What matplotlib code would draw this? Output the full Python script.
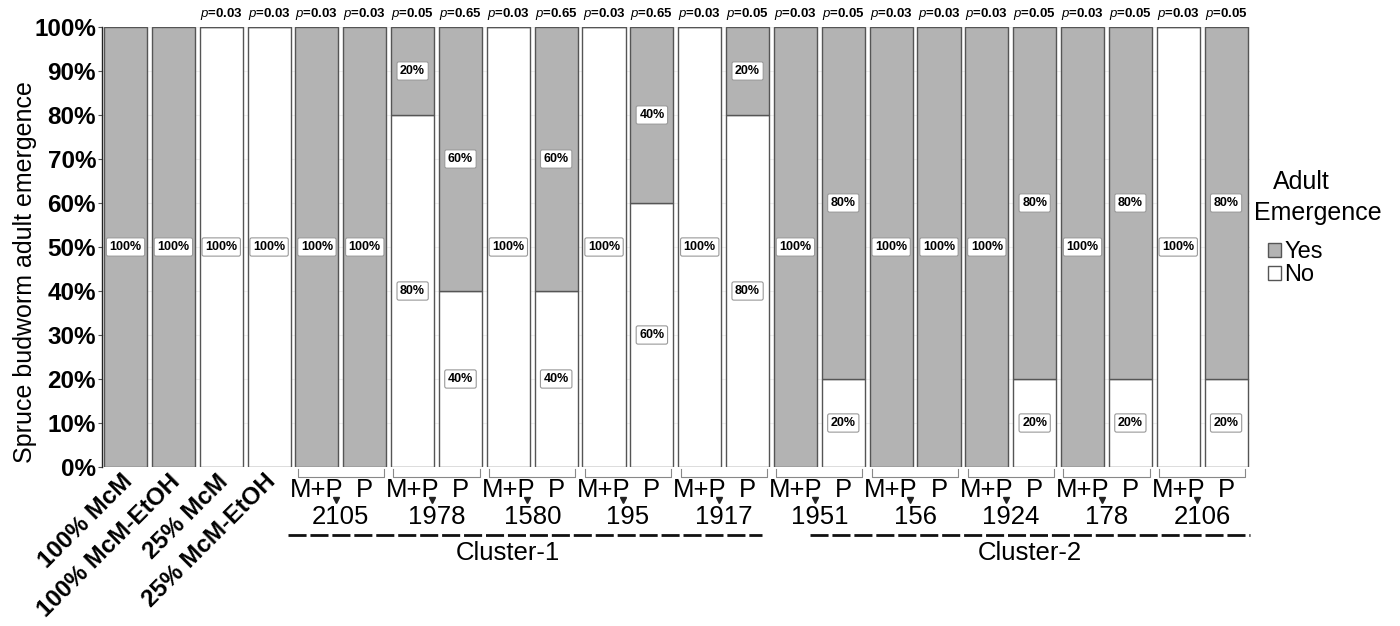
import matplotlib
matplotlib.use("Agg")
import matplotlib.pyplot as plt
import matplotlib.transforms as mtransforms
from matplotlib.patches import Patch
import numpy as np

plt.rcParams['font.family'] = ['Liberation Sans', 'DejaVu Sans']
plt.rcParams['mathtext.fontset'] = 'custom'
plt.rcParams['mathtext.it'] = 'Liberation Sans:italic'
plt.rcParams['mathtext.rm'] = 'Liberation Sans'

# ---------------- data ----------------
control_labels = ["100% McM", "100% McM-EtOH", "25% McM", "25% McM-EtOH"]
isolates = ["2105", "1978", "1580", "195", "1917", "1951", "156", "1924", "178", "2106"]
treatments = ["M+P", "P"]
clusters = ["Cluster-1", "Cluster-2"]
cluster_sizes = [5, 5]

# percentage of adults emerging ("Yes") per bar, in bar order
yes_pct = [100, 100, 0, 0,
           100, 100, 20, 60, 0, 60, 0, 40, 0, 20,
           100, 80, 100, 100, 100, 80, 100, 80, 0, 80]
no_pct = [100 - v for v in yes_pct]

p_values = [None, None, "0.03", "0.03",
            "0.03", "0.03", "0.05", "0.65", "0.03", "0.65", "0.03", "0.65", "0.03", "0.05",
            "0.03", "0.05", "0.03", "0.03", "0.03", "0.05", "0.03", "0.05", "0.03", "0.05"]

yes_color = "#b3b3b3"
no_color = "#ffffff"

# ---------------- figure ----------------
fig = plt.figure(figsize=(14, 6.26), dpi=100)
ax = fig.add_axes([101.6 / 1400, 1 - 467 / 626, (1250 - 101.6) / 1400, (467 - 27) / 626])

n = len(yes_pct)
x = np.arange(n)
yes = np.array(yes_pct) / 100.0
no = np.array(no_pct) / 100.0

ax.bar(x, no, width=0.9, color=no_color, edgecolor="#555555", linewidth=1.0, zorder=2)
ax.bar(x, yes, width=0.9, bottom=no, color=yes_color, edgecolor="#555555", linewidth=1.0, zorder=2)

ax.set_xlim(-0.5, n - 0.5)
ax.set_ylim(0, 1)
ticks = np.arange(0, 1.01, 0.1)
ax.set_yticks(ticks)
ax.set_yticklabels([f"{int(round(t * 100))}%" for t in ticks], fontsize=17.5, fontweight="bold")
ax.tick_params(axis="y", length=3, width=0.8, color="#555555", pad=1)
ax.set_xticks([])
ax.grid(True, color="#f0f0f0", linewidth=0.8, zorder=0)
ax.set_xticks(x, minor=True)
ax.grid(True, which="minor", axis="x", color="#f0f0f0", linewidth=0.8, zorder=0)
ax.tick_params(axis="x", which="minor", length=0)
for s in ["top", "right", "bottom"]:
    ax.spines[s].set_visible(False)
ax.spines["left"].set_color("#222222")
ax.spines["left"].set_linewidth(1.0)

fig.text(25 / 1400, 1 - 272 / 626, "Spruce budworm adult emergence", rotation=90,
         ha="center", va="center", fontsize=18)

# segment labels
box = dict(boxstyle="round,pad=0.25,rounding_size=0.15", fc="white", ec="#999999", lw=0.8)
for i in range(n):
    if no[i] > 0:
        ax.text(i, no[i] / 2, f"{no_pct[i]}%", ha="center", va="center",
                fontsize=9, fontweight="bold", bbox=box, zorder=4)
    if yes[i] > 0:
        ax.text(i, no[i] + yes[i] / 2, f"{yes_pct[i]}%", ha="center", va="center",
                fontsize=9, fontweight="bold", bbox=box, zorder=4)

# p-values above bars
for i, p in enumerate(p_values):
    if p is None:
        continue
    ax.text(i, 1.03, r"$\mathit{p}$" + f"={p}", ha="center", va="center",
            fontsize=9.5, fontweight="bold", clip_on=False)

# x labels
trans = mtransforms.blended_transform_factory(ax.transData, fig.transFigure)
for i, lab in enumerate(control_labels):
    ax.text(i - 0.1, 1 - 470 / 626, lab, transform=trans, rotation=45,
            rotation_mode="anchor", ha="right", va="top", fontsize=17.5, fontweight="bold")

start = len(control_labels)
for k, iso in enumerate(isolates):
    i0 = start + 2 * k
    for t, tr in enumerate(treatments):
        ax.text(i0 + t, 1 - 490 / 626, tr, transform=trans, ha="center", va="center", fontsize=18.5)
    ax.text(i0 + 0.5, 1 - 517 / 626, iso, transform=trans, ha="center", va="center", fontsize=18.5)
    ax.plot([i0 + 0.5 - 0.1], [1 - 500 / 626], marker="v", markersize=4, color="#222222",
            transform=trans, clip_on=False, zorder=5)
    # bracket
    yb = 1 - 477 / 626
    yt = 1 - 469 / 626
    ax.plot([i0 - 0.4, i0 - 0.4, i0 + 1.4, i0 + 1.4], [yt, yb, yb, yt], color="#888888",
            lw=0.8, transform=trans, clip_on=False)

# cluster lines
c0 = start
for c, size in enumerate(cluster_sizes):
    first = c0
    last = c0 + 2 * size - 1
    xl = first - 0.6 if c == 0 else first + 0.3
    xr = last + 0.3 if c == 0 else last + 0.5
    ax.plot([xl, xr], [1 - 535 / 626] * 2, color="#111111", lw=2, linestyle=(0, (6.5, 1.4)),
            transform=trans, clip_on=False)
    ax.text((first + last) / 2 - (0.5 if c == 0 else -0.4), 1 - 553 / 626, clusters[c],
            transform=trans, ha="center", va="center", fontsize=18.5)
    c0 = last + 1

# legend
fig.text(1301 / 1400, 1 - 182 / 626, "Adult", ha="center", va="center", fontsize=18)
fig.text(1318 / 1400, 1 - 213 / 626, "Emergence", ha="center", va="center", fontsize=18)
handles = [Patch(facecolor=yes_color, edgecolor="#555555", label="Yes"),
           Patch(facecolor=no_color, edgecolor="#555555", label="No")]
fig.legend(handles=handles, loc="upper left", bbox_to_anchor=(1268 / 1400, 1 - 241 / 626),
           frameon=False, fontsize=17, handlelength=0.55, handleheight=0.55,
           handletextpad=0.15, labelspacing=0.05, borderaxespad=0, borderpad=0)

fig.savefig("out.png", dpi=100)
